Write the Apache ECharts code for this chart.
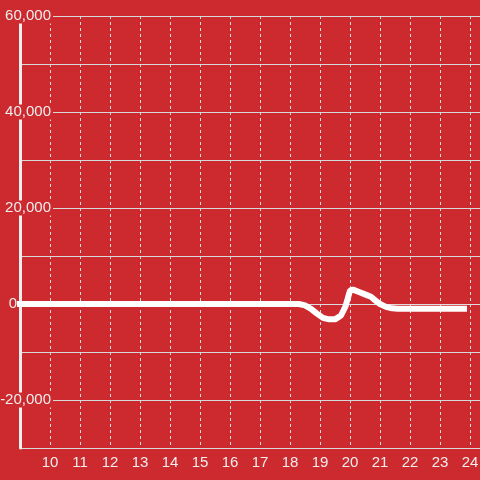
<!DOCTYPE html>
<html>
<head>
<meta charset="utf-8">
<script src="https://cdn.jsdelivr.net/npm/echarts@6/dist/echarts.min.js"></script>
<style>
  html, body { margin: 0; padding: 0; background: #cc2a2f; }
  #chart { width: 480px; height: 480px; }
</style>
</head>
<body>
<div id="chart"></div>
<script>
// hour of day and value
const hours = [8.5, 18.3, 18.5, 18.7, 18.9, 19.1, 19.3, 19.5, 19.7, 19.85, 20.0, 20.1,
    20.3, 20.5, 20.7, 20.85, 21.0, 21.2, 21.4, 21.6, 23.9];
const values = [0, 0, -300, -1000, -2000, -2900, -3200, -3200, -2400, -500, 2800, 3000,
    2500, 2000, 1500, 700, 0, -600, -900, -1000, -1000];
const yLabelled = [60000, 40000, 20000, -20000];

const chart = echarts.init(document.getElementById('chart'));
const bg = '#cc2a2f';
const font = 'Liberation Sans, Arial, sans-serif';

const option = {
    backgroundColor: bg,
    animation: false,
    grid: { left: 20, right: 0, top: 16, bottom: 32, outerBoundsMode: 'none', containLabel: false },
    xAxis: {
        type: 'value',
        min: 9,
        max: 24 + 1 / 3,
        interval: 1,
        axisLine: { show: true, lineStyle: { color: '#dddddd', width: 1 } },
        axisTick: { show: false },
        axisLabel: {
            showMinLabel: false,
            showMaxLabel: false,
            color: '#eeeeee',
            fontSize: 15,
            fontFamily: font,
            margin: 7
        },
        splitLine: { show: true, lineStyle: { color: '#dddddd', width: 1, type: [3, 3] } }
    },
    yAxis: [
        {
            // grid lines only
            type: 'value',
            position: 'left',
            min: -30000,
            max: 60000,
            interval: 10000,
            z: 0,
            axisLine: { show: false },
            axisTick: { show: false },
            axisLabel: { show: false },
            splitLine: { show: true, lineStyle: { color: '#d8d8d8', width: 1 } }
        },
        {
            // axis line and labels drawn over the grid lines
            type: 'value',
            position: 'left',
            offset: 0,
            min: -30000,
            max: 60000,
            interval: 10000,
            z: 1,
            axisLine: { show: true, onZero: false, lineStyle: { color: '#eeeeee', width: 3 } },
            axisTick: { show: false },
            splitLine: { show: false },
            axisLabel: {
                align: 'right',
                margin: -33,
                fontSize: 15,
                fontFamily: font,
                color: '#eeeeee',
                formatter: v => {
                    if (v === 0) return '{z|0}';
                    if (yLabelled.indexOf(v) < 0) return '';
                    return '{a|' + v.toLocaleString('en-US') + '}';
                },
                rich: {
                    a: {
                        backgroundColor: bg,
                        padding: [0, 2, 0, 3],
                        fontSize: 15,
                        fontFamily: font,
                        color: '#eeeeee'
                    },
                    z: {
                        padding: [0, 36, 0, 0],
                        fontSize: 15,
                        fontFamily: font,
                        color: '#eeeeee'
                    }
                }
            }
        }
    ],
    series: [
        {
            type: 'line',
            showSymbol: false,
            lineStyle: { color: '#ffffff', width: 6 },
            data: hours.map((h, i) => [h, values[i]])
        }
    ]
};

chart.setOption(option);
</script>
</body>
</html>
